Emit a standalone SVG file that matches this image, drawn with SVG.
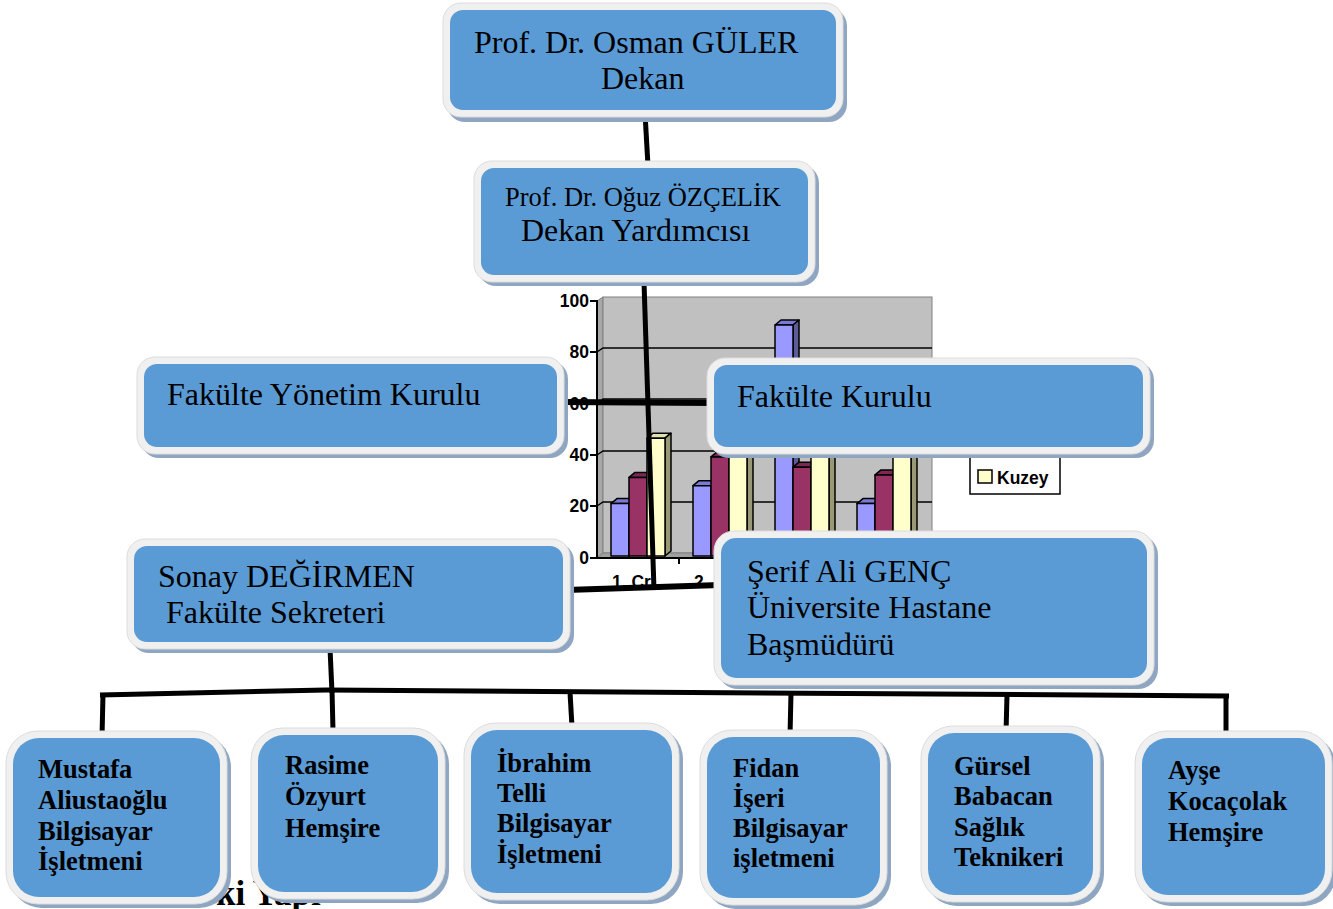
<svg xmlns="http://www.w3.org/2000/svg" width="1333" height="909" viewBox="0 0 1333 909">
<defs>
<style>
.sh{fill:#8fa6c2}
.rim{fill:#f0f0f0;stroke:#dcdcdc;stroke-width:1}
.bl{fill:#5b9bd5}
.t{font-family:"Liberation Serif","Times New Roman",serif;fill:#000}
.tr{font-size:32px}
.tb{font-size:26.5px;font-weight:bold}
.ax{font-family:"Liberation Sans",Arial,sans-serif;font-weight:bold;font-size:17.5px;fill:#000}
.cn{stroke:#000;stroke-width:5;fill:none;stroke-linecap:butt}
.bar{stroke:#000;stroke-width:1.5;stroke-linejoin:round}
.grid{stroke:#000;stroke-width:1.5}
</style>
<clipPath id="chartClip"><rect x="540" y="285" width="540" height="304"/></clipPath>
</defs>
<rect width="1333" height="909" fill="#fff"/>

<!-- background chart -->
<g id="chart" clip-path="url(#chartClip)">
  <polygon points="597,301 603,297 603,553 597,558" fill="#a8a8a8" stroke="#808080" stroke-width="1"/>
  <rect x="603" y="297" width="329" height="256" fill="#c0c0c0" stroke="#808080" stroke-width="1"/>
  <polygon points="597,558 603,553 932,553 926,558" fill="#a0a0a0" stroke="#808080" stroke-width="1"/>
  <g class="grid">
    <polyline points="597,352 603,348 932,348" fill="none"/>
    <polyline points="597,404 603,399 932,399" fill="none"/>
    <polyline points="597,455 603,451 932,451" fill="none"/>
    <polyline points="597,506 603,502 932,502" fill="none"/>
  </g>
  <line x1="597" y1="300" x2="597" y2="559" stroke="#000" stroke-width="2"/>
  <line x1="597" y1="558" x2="930" y2="558" stroke="#000" stroke-width="2"/>
  <g stroke="#000" stroke-width="2">
    <line x1="590" y1="301" x2="597" y2="301"/>
    <line x1="590" y1="352" x2="597" y2="352"/>
    <line x1="590" y1="404" x2="597" y2="404"/>
    <line x1="590" y1="455" x2="597" y2="455"/>
    <line x1="590" y1="506" x2="597" y2="506"/>
    <line x1="590" y1="558" x2="597" y2="558"/>
    <line x1="679" y1="558" x2="679" y2="564"/>
    <line x1="761" y1="558" x2="761" y2="564"/>
  </g>
  <g class="ax" text-anchor="end">
    <text x="589" y="307">100</text>
    <text x="589" y="358">80</text>
    <text x="589" y="410">60</text>
    <text x="589" y="461">40</text>
    <text x="589" y="512">20</text>
    <text x="589" y="564">0</text>
  </g>
  <text class="ax" x="612" y="588">1. Çr</text>
  <text class="ax" x="694" y="588">2</text>

  <!-- group 1 -->
  <g class="bar">
    <polygon points="611,503.6 617,498.6 635,498.6 629,503.6" fill="#7a7ad6"/>
    <polygon points="629,503.6 635,498.6 635,551 629,556" fill="#5c5c99"/>
    <rect x="611" y="503.6" width="18" height="52.4" fill="#9999ff"/>
    <polygon points="629,477.4 635,472.4 653,472.4 647,477.4" fill="#7a2952"/>
    <polygon points="647,477.4 653,472.4 653,551 647,556" fill="#5c1f3d"/>
    <rect x="629" y="477.4" width="18" height="78.6" fill="#993366"/>
    <polygon points="647,438.2 653,433.2 671,433.2 665,438.2" fill="#e0e0b0"/>
    <polygon points="665,438.2 671,433.2 671,551 665,556" fill="#999977"/>
    <rect x="647" y="438.2" width="18" height="117.8" fill="#ffffcc"/>
  </g>
  <!-- group 2 -->
  <g class="bar">
    <polygon points="693,485.7 699,480.7 717,480.7 711,485.7" fill="#7a7ad6"/>
    <polygon points="711,485.7 717,480.7 717,551 711,556" fill="#5c5c99"/>
    <rect x="693" y="485.7" width="18" height="70.3" fill="#9999ff"/>
    <polygon points="711,456.9 717,451.9 735,451.9 729,456.9" fill="#7a2952"/>
    <polygon points="729,456.9 735,451.9 735,551 729,556" fill="#5c1f3d"/>
    <rect x="711" y="456.9" width="18" height="99.1" fill="#993366"/>
    <polygon points="729,435.6 735,430.6 753,430.6 747,435.6" fill="#e0e0b0"/>
    <polygon points="747,435.6 753,430.6 753,551 747,556" fill="#999977"/>
    <rect x="729" y="435.6" width="18" height="120.4" fill="#ffffcc"/>
  </g>
  <!-- group 3 -->
  <g class="bar">
    <polygon points="775,325 781,320 799,320 793,325" fill="#7a7ad6"/>
    <polygon points="793,325 799,320 799,551 793,556" fill="#5c5c99"/>
    <rect x="775" y="325" width="18" height="231" fill="#9999ff"/>
    <polygon points="793,467.2 799,462.2 817,462.2 811,467.2" fill="#7a2952"/>
    <polygon points="811,467.2 817,462.2 817,551 811,556" fill="#5c1f3d"/>
    <rect x="793" y="467.2" width="18" height="88.8" fill="#993366"/>
    <polygon points="811,440.5 817,435.5 835,435.5 829,440.5" fill="#e0e0b0"/>
    <polygon points="829,440.5 835,435.5 835,551 829,556" fill="#999977"/>
    <rect x="811" y="440.5" width="18" height="115.5" fill="#ffffcc"/>
  </g>
  <!-- group 4 -->
  <g class="bar">
    <polygon points="857,503.6 863,498.6 881,498.6 875,503.6" fill="#7a7ad6"/>
    <polygon points="875,503.6 881,498.6 881,551 875,556" fill="#5c5c99"/>
    <rect x="857" y="503.6" width="18" height="52.4" fill="#9999ff"/>
    <polygon points="875,474.9 881,469.9 899,469.9 893,474.9" fill="#7a2952"/>
    <polygon points="893,474.9 899,469.9 899,551 893,556" fill="#5c1f3d"/>
    <rect x="875" y="474.9" width="18" height="81.1" fill="#993366"/>
    <polygon points="893,443.3 899,438.3 917,438.3 911,443.3" fill="#e0e0b0"/>
    <polygon points="911,443.3 917,438.3 917,551 911,556" fill="#999977"/>
    <rect x="893" y="443.3" width="18" height="112.7" fill="#ffffcc"/>
  </g>
  <!-- legend -->
  <rect x="970" y="430" width="90" height="64" fill="#fff" stroke="#000" stroke-width="1.5"/>
  <rect x="978" y="470" width="14" height="13" fill="#ffffcc" stroke="#000" stroke-width="1.5"/>
  <text class="ax" x="997" y="484" font-size="16.5">Kuzey</text>
</g>

<!-- partly hidden caption -->
<text class="t" x="216" y="905" font-size="35" font-weight="bold">ki Yapı</text>

<!-- connectors -->
<g id="connectors" class="cn">
  <line x1="645" y1="113" x2="648" y2="166"/>
  <line x1="644" y1="282" x2="654" y2="590"/>
  <line x1="560" y1="402" x2="714" y2="403" stroke-width="6"/>
  <line x1="566" y1="590" x2="720" y2="585" stroke-width="6"/>
  <line x1="330" y1="648" x2="332" y2="693"/>
  <line x1="100" y1="695" x2="326" y2="690"/>
  <line x1="326" y1="690" x2="1229" y2="696"/>
  <line x1="103" y1="694" x2="102" y2="737"/>
  <line x1="332" y1="690" x2="333" y2="731"/>
  <line x1="570" y1="692" x2="572" y2="727"/>
  <line x1="791" y1="693" x2="790" y2="736"/>
  <line x1="1007" y1="695" x2="1006" y2="733"/>
  <line x1="1226" y1="696" x2="1226" y2="735"/>
</g>

<!-- nodes -->
<g id="n-dekan">
  <rect class="sh" x="447" y="8" width="400" height="114" rx="18"/>
  <rect class="rim" x="443" y="3" width="400" height="114" rx="18"/>
  <rect class="bl" x="450" y="10" width="386" height="100" rx="13"/>
  <text class="t" x="474" y="53" font-size="32">Prof. Dr. Osman GÜLER</text>
  <text class="t" x="601" y="89" font-size="32">Dekan</text>
</g>
<g id="n-yardimci">
  <rect class="sh" x="478" y="165" width="341" height="121" rx="18"/>
  <rect class="rim" x="474" y="161" width="341" height="121" rx="18"/>
  <rect class="bl" x="481" y="168" width="327" height="107" rx="13"/>
  <text class="t" x="505" y="206" font-size="26.5">Prof. Dr. Oğuz ÖZÇELİK</text>
  <text class="t" x="521" y="241" font-size="32">Dekan Yardımcısı</text>
</g>
<g id="n-fyk">
  <rect class="sh" x="141" y="361" width="427" height="97" rx="18"/>
  <rect class="rim" x="137" y="357" width="427" height="97" rx="18"/>
  <rect class="bl" x="144" y="364" width="413" height="83" rx="13"/>
  <text class="t tr" x="167" y="405">Fakülte Yönetim Kurulu</text>
</g>
<g id="n-fk">
  <rect class="sh" x="711" y="362" width="443" height="96" rx="18"/>
  <rect class="rim" x="707" y="358" width="443" height="96" rx="18"/>
  <rect class="bl" x="714" y="365" width="429" height="82" rx="13"/>
  <text class="t tr" x="737" y="407">Fakülte Kurulu</text>
</g>
<g id="n-sonay">
  <rect class="sh" x="131" y="543" width="443" height="110" rx="18"/>
  <rect class="rim" x="127" y="539" width="443" height="110" rx="18"/>
  <rect class="bl" x="134" y="546" width="429" height="96" rx="13"/>
  <text class="t tr" x="158" y="587">Sonay DEĞİRMEN</text>
  <text class="t tr" x="166" y="623">Fakülte Sekreteri</text>
</g>
<g id="n-serif">
  <rect class="sh" x="718" y="535" width="440" height="154" rx="20"/>
  <rect class="rim" x="714" y="531" width="440" height="154" rx="20"/>
  <rect class="bl" x="721" y="538" width="426" height="140" rx="15"/>
  <text class="t tr" x="747" y="582">Şerif Ali GENÇ</text>
  <text class="t tr" x="747" y="618">Üniversite Hastane</text>
  <text class="t tr" x="747" y="655">Başmüdürü</text>
</g>
<g id="n-mustafa">
  <rect class="sh" x="10" y="735" width="221" height="173" rx="32"/>
  <rect class="rim" x="6" y="731" width="221" height="173" rx="32"/>
  <rect class="bl" x="13" y="738" width="207" height="159" rx="26"/>
  <text class="t tb" x="38" y="778">Mustafa</text>
  <text class="t tb" x="38" y="809">Aliustaoğlu</text>
  <text class="t tb" x="38" y="840">Bilgisayar</text>
  <text class="t tb" x="38" y="870">İşletmeni</text>
</g>
<g id="n-rasime">
  <rect class="sh" x="255" y="732" width="194" height="171" rx="32"/>
  <rect class="rim" x="251" y="728" width="194" height="171" rx="32"/>
  <rect class="bl" x="258" y="735" width="180" height="157" rx="26"/>
  <text class="t tb" x="285" y="774">Rasime</text>
  <text class="t tb" x="285" y="805">Özyurt</text>
  <text class="t tb" x="285" y="837">Hemşire</text>
</g>
<g id="n-ibrahim">
  <rect class="sh" x="468" y="727" width="215" height="177" rx="32"/>
  <rect class="rim" x="464" y="723" width="215" height="177" rx="32"/>
  <rect class="bl" x="471" y="730" width="201" height="163" rx="26"/>
  <text class="t tb" x="497" y="772">İbrahim</text>
  <text class="t tb" x="497" y="802">Telli</text>
  <text class="t tb" x="497" y="832">Bilgisayar</text>
  <text class="t tb" x="497" y="863">İşletmeni</text>
</g>
<g id="n-fidan">
  <rect class="sh" x="704" y="734" width="187" height="175" rx="32"/>
  <rect class="rim" x="700" y="730" width="187" height="175" rx="32"/>
  <rect class="bl" x="707" y="737" width="173" height="161" rx="26"/>
  <text class="t tb" x="733" y="777">Fidan</text>
  <text class="t tb" x="733" y="807">İşeri</text>
  <text class="t tb" x="733" y="837">Bilgisayar</text>
  <text class="t tb" x="733" y="867">işletmeni</text>
</g>
<g id="n-gursel">
  <rect class="sh" x="925" y="730" width="179" height="176" rx="32"/>
  <rect class="rim" x="921" y="726" width="179" height="176" rx="32"/>
  <rect class="bl" x="928" y="733" width="165" height="162" rx="26"/>
  <text class="t tb" x="954" y="775">Gürsel</text>
  <text class="t tb" x="954" y="805">Babacan</text>
  <text class="t tb" x="954" y="836">Sağlık</text>
  <text class="t tb" x="954" y="866">Teknikeri</text>
</g>
<g id="n-ayse">
  <rect class="sh" x="1139" y="735" width="197" height="171" rx="32"/>
  <rect class="rim" x="1135" y="731" width="197" height="171" rx="32"/>
  <rect class="bl" x="1142" y="738" width="183" height="157" rx="26"/>
  <text class="t tb" x="1168" y="779">Ayşe</text>
  <text class="t tb" x="1168" y="810">Kocaçolak</text>
  <text class="t tb" x="1168" y="841">Hemşire</text>
</g>
</svg>
